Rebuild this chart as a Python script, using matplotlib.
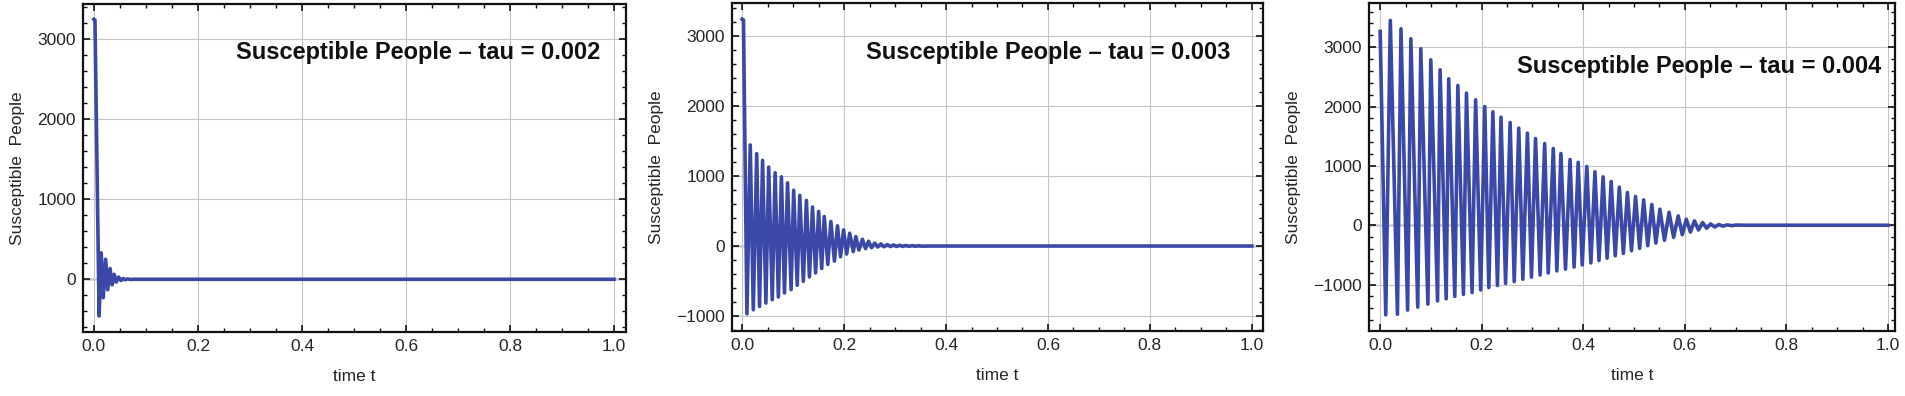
import numpy as np
import matplotlib
matplotlib.use("Agg")
from matplotlib import pyplot as plt
from matplotlib.ticker import MultipleLocator

plt.rcParams['font.family'] = ['Liberation Sans', 'DejaVu Sans']

# ---- data: (time, value) of each turning point ----
# tau = 0.002
t1_peaks = [0.0, 0.002, 0.014, 0.0225, 0.031, 0.039, 0.0475, 0.056, 0.065, 0.075, 1.0]
s1_peaks = [3250, 3240, 330, 250, 135, 62, 28, 10, 4, 0, 0]
t1_troughs = [0.010, 0.018, 0.0265, 0.035, 0.043, 0.052, 0.060, 0.070]
s1_troughs = [-459, -230, -130, -70, -35, -15, -6, -2]

# tau = 0.003
t2_peaks = [0.0, 0.0025, 0.0158, 0.0285, 0.040, 0.052, 0.0646, 0.077, 0.089, 0.101,
            0.113, 0.126, 0.138, 0.150, 0.161, 0.174, 0.187, 0.199, 0.211, 0.223,
            0.236, 0.248, 0.260, 0.272, 0.285, 0.297, 0.309, 0.321, 0.334, 0.346,
            0.37, 1.0]
s2_peaks = [3240, 3230, 1443, 1319, 1223, 1127, 1046, 988, 902, 796,
            724, 652, 557, 494, 422, 350, 288, 230, 183, 134,
            96, 68, 42, 30, 20, 15, 11, 8, 6, 4,
            0, 0]
t2_troughs = [0.0093, 0.0218, 0.034, 0.0465, 0.059, 0.071, 0.083, 0.096, 0.108, 0.120,
              0.132, 0.144, 0.156, 0.168, 0.181, 0.193, 0.205, 0.218, 0.229, 0.242,
              0.254, 0.266, 0.278, 0.291, 0.303, 0.315, 0.327, 0.340, 0.352]
s2_troughs = [-969, -911, -863, -815, -767, -729, -671, -623, -561, -504,
              -441, -384, -321, -263, -216, -153, -115, -81, -58, -38,
              -24, -14, -10, -8, -6, -5, -4, -3, -2]

# tau = 0.004
t3_peaks = [0.0, 0.020, 0.041, 0.0605, 0.080, 0.0997, 0.118, 0.135, 0.153, 0.170,
            0.188, 0.206, 0.222, 0.238, 0.256, 0.273, 0.290, 0.306, 0.324, 0.341,
            0.356, 0.374, 0.390, 0.407, 0.423, 0.439, 0.455, 0.471, 0.487, 0.503,
            0.519, 0.535, 0.551, 0.569, 0.587, 0.603, 0.619, 0.635, 0.651, 0.667,
            0.684, 0.700, 0.72, 1.0]
s3_peaks = [3265, 3450, 3310, 3141, 2973, 2787, 2619, 2467, 2354, 2226,
            2113, 2000, 1911, 1821, 1731, 1636, 1551, 1461, 1376, 1292,
            1208, 1107, 1060, 989, 900, 815, 736, 641, 551, 484,
            428, 349, 270, 219, 157, 101, 73, 45, 22, 12,
            6, 3, 0, 0]
t3_troughs = [0.011, 0.034, 0.054, 0.074, 0.094, 0.113, 0.130, 0.147, 0.164, 0.181,
              0.198, 0.214, 0.231, 0.247, 0.264, 0.281, 0.298, 0.315, 0.331, 0.348,
              0.365, 0.382, 0.398, 0.415, 0.431, 0.447, 0.463, 0.479, 0.495, 0.511,
              0.527, 0.543, 0.560, 0.578, 0.595, 0.611, 0.627, 0.643, 0.659, 0.675,
              0.692]
s3_troughs = [-1510, -1500, -1430, -1380, -1330, -1275, -1240, -1200, -1165, -1135,
              -1090, -1050, -1015, -980, -950, -910, -875, -840, -805, -770,
              -740, -705, -670, -635, -595, -555, -515, -475, -430, -390,
              -345, -300, -255, -205, -160, -115, -80, -50, -30, -15,
              -8]

taus = ["0.002", "0.003", "0.004"]
ylims = [(-659, 3441), (-1214, 3471), (-1782, 3744)]
xlims = [(-0.021, 1.023), (-0.02, 1.022), (-0.022, 1.014)]
text_pos = [(0.273, 2829), (0.243, 2757), (0.270, 2670)]

series = [(t1_peaks, s1_peaks, t1_troughs, s1_troughs),
          (t2_peaks, s2_peaks, t2_troughs, s2_troughs),
          (t3_peaks, s3_peaks, t3_troughs, s3_troughs)]

# axes boxes in pixels (left, right, top, bottom) of the 1905x396 picture
boxes = [(83, 626, 4, 332), (732, 1263, 3, 331), (1369, 1895, 3, 331)]
W, H = 1905, 396

line_col = "#3a48a8"
txt_col = "#262626"

fig = plt.figure(figsize=(W / 100, H / 100), dpi=100)

for i in range(3):
    l, r, tp, b = boxes[i]
    ax = fig.add_axes([l / W, (H - b) / H, (r - l) / W, (b - tp) / H])
    tp_, sp_, tt_, st_ = series[i]
    t = np.array(tp_ + tt_)
    s = np.array(sp_ + st_)
    order = np.argsort(t, kind="stable")
    ax.axhline(0, color="#555555", lw=1.0, zorder=1)
    ax.plot(t[order], s[order], color=line_col, lw=2.6, solid_joinstyle="round", zorder=3)

    ax.set_xlim(*xlims[i])
    ax.set_ylim(*ylims[i])
    ax.xaxis.set_major_locator(MultipleLocator(0.2))
    ax.xaxis.set_minor_locator(MultipleLocator(0.05))
    ax.yaxis.set_major_locator(MultipleLocator(1000))
    ax.yaxis.set_minor_locator(MultipleLocator(200))
    ax.xaxis.set_major_formatter(plt.FuncFormatter(lambda v, p: "%.1f" % v))
    ax.yaxis.set_major_formatter(plt.FuncFormatter(lambda v, p: "%d" % v if v >= 0 else "\u2212%d" % -v))
    ax.grid(True, which="major", color="#c4c4c4", lw=0.8)
    ax.tick_params(which="both", direction="in", top=True, right=True,
                   labelsize=12.5, labelcolor=txt_col, color="#111111")
    ax.tick_params(which="major", length=5, width=1.2, pad=5)
    ax.tick_params(which="minor", length=3, width=1.0)
    for sp in ax.spines.values():
        sp.set_linewidth(1.6)
        sp.set_color("#111111")

    ax.set_xlabel("time t", fontsize=12.5, color=txt_col, labelpad=11)
    ax.set_ylabel("Susceptible  People", fontsize=12.5, color=txt_col, labelpad=9)

    ax.text(text_pos[i][0], text_pos[i][1], "Susceptible People \u2013 tau = " + taus[i],
            fontsize=17, fontweight="bold", ha="left", va="center", color="#111111",
            family=["Liberation Sans Narrow", "Liberation Sans", "DejaVu Sans"], zorder=5)

fig.savefig("out.png", dpi=100)
